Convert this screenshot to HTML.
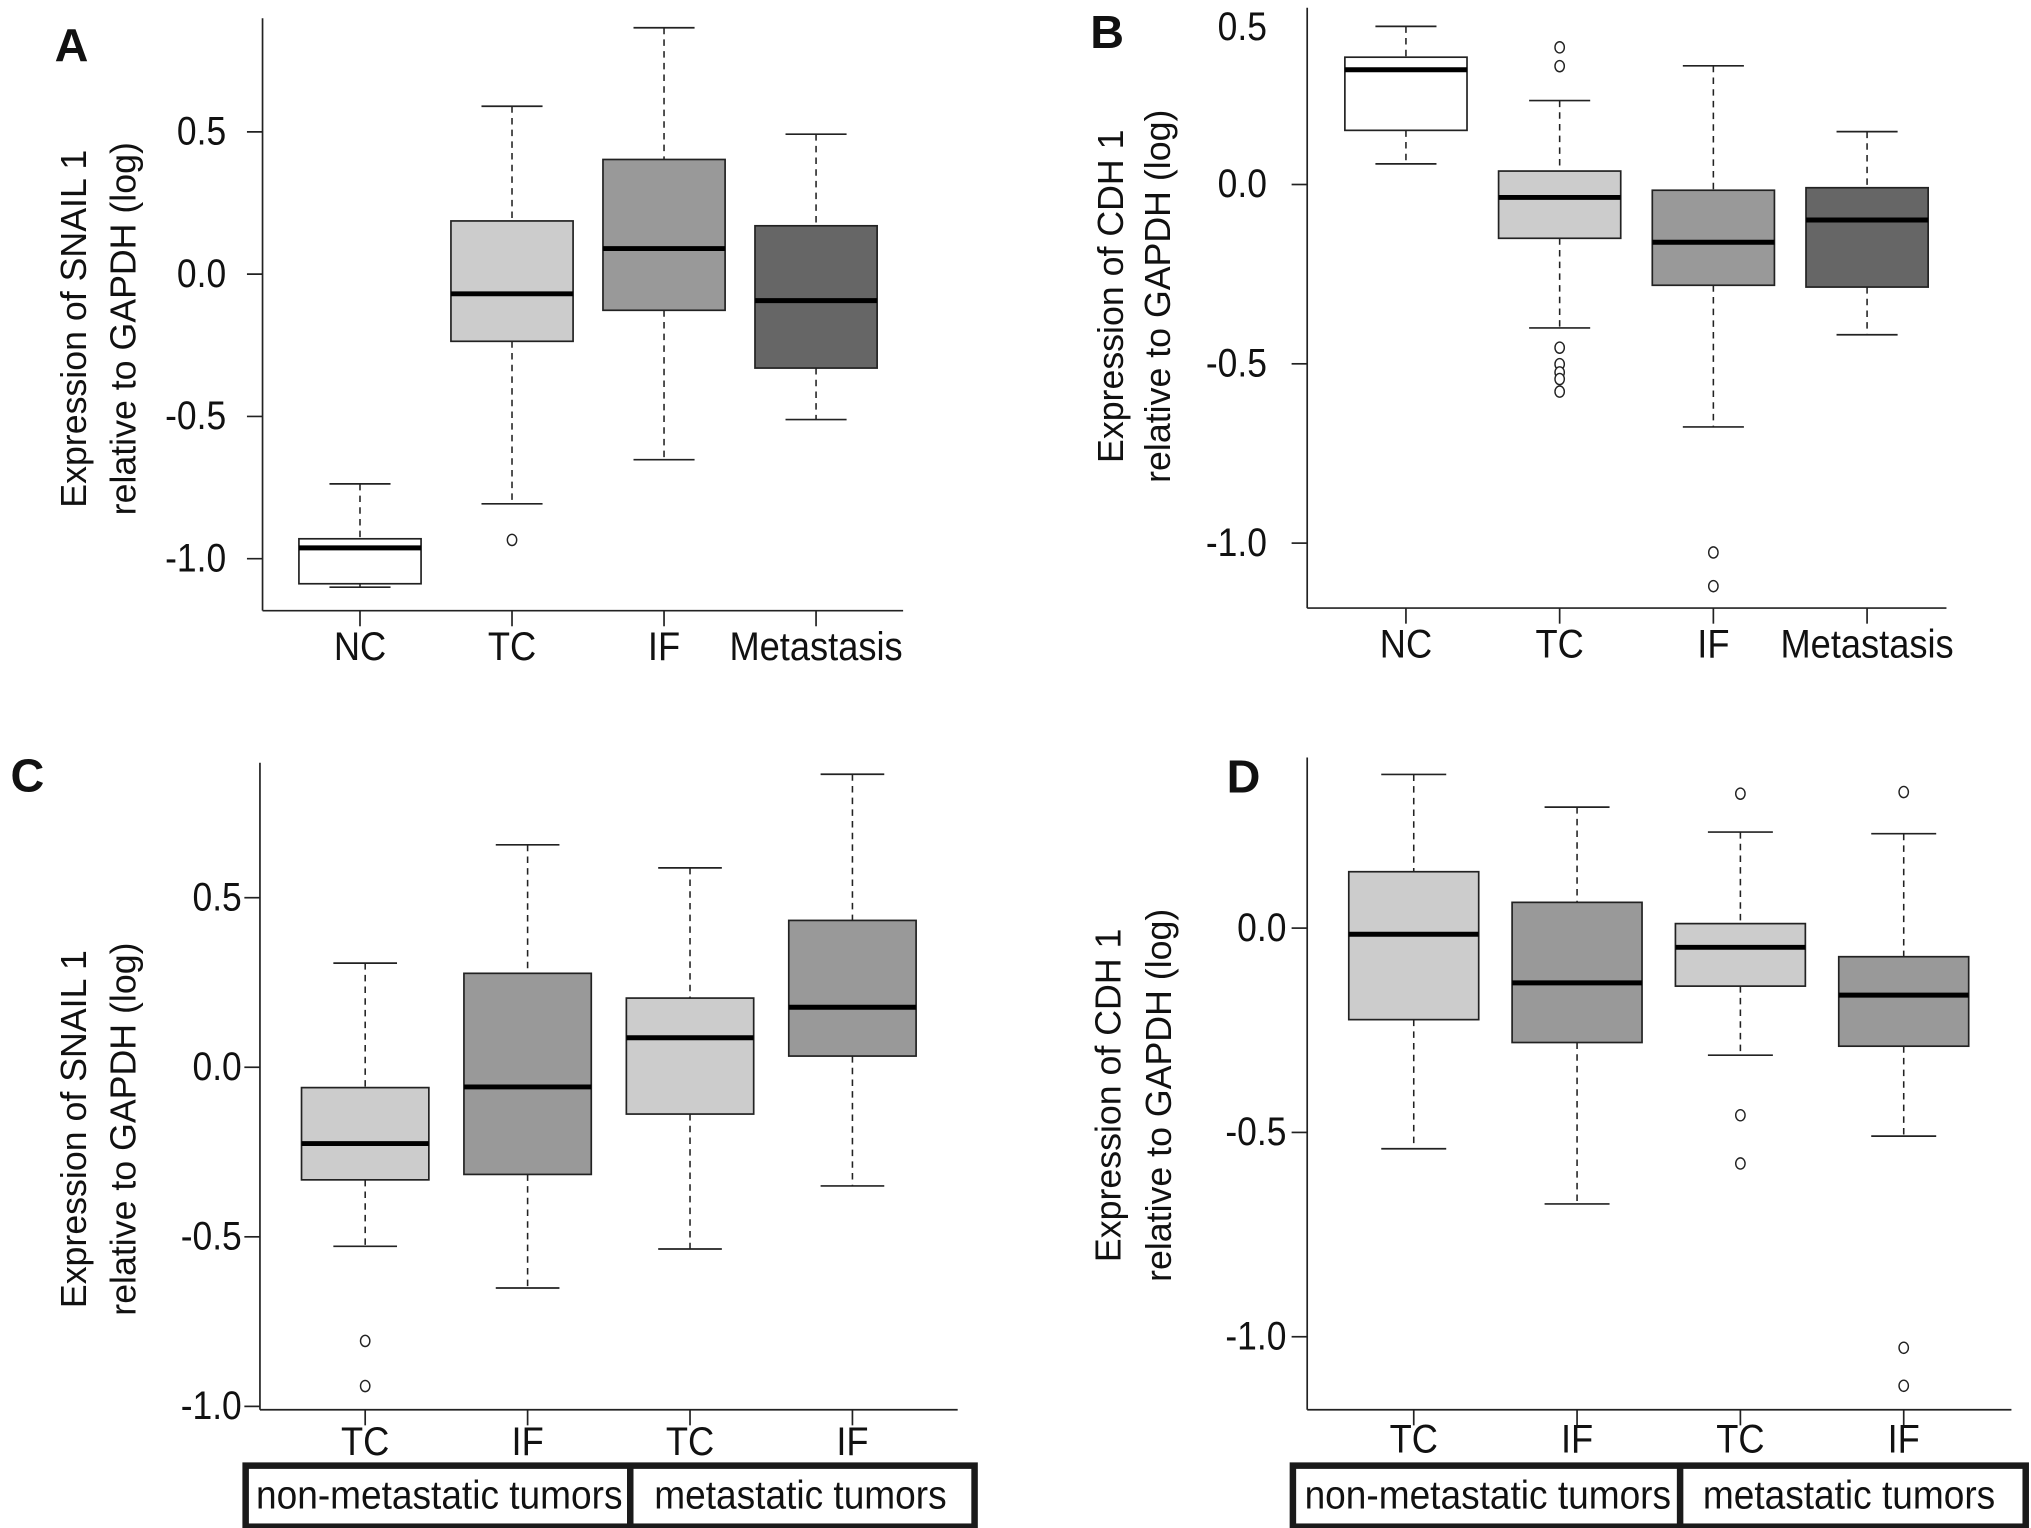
<!DOCTYPE html>
<html><head><meta charset="utf-8"><style>
html,body{margin:0;padding:0;background:#fff;}
svg{display:block;}
text{font-family:"Liberation Sans",Arial,sans-serif;fill:#111;}
</style></head>
<body>
<svg id="fig" width="2031" height="1528" viewBox="0 0 1563 1176" xmlns="http://www.w3.org/2000/svg">
<text x="42" y="47" font-size="36" font-weight="bold">A</text>
<text x="839" y="37" font-size="36" font-weight="bold">B</text>
<text x="8" y="609" font-size="36" font-weight="bold">C</text>
<text x="944" y="610" font-size="36" font-weight="bold">D</text>
<g transform="translate(57,253) rotate(-90)"><text text-anchor="middle" dominant-baseline="central" font-size="27.5">Expression of SNAIL 1</text><text y="38" text-anchor="middle" dominant-baseline="central" font-size="27.5">relative to GAPDH (log)</text></g>
<g transform="translate(855,228) rotate(-90)"><text text-anchor="middle" dominant-baseline="central" font-size="27.5">Expression of CDH 1</text><text y="36" text-anchor="middle" dominant-baseline="central" font-size="27.5">relative to GAPDH (log)</text></g>
<g transform="translate(57,869) rotate(-90)"><text text-anchor="middle" dominant-baseline="central" font-size="27.5">Expression of SNAIL 1</text><text y="38" text-anchor="middle" dominant-baseline="central" font-size="27.5">relative to GAPDH (log)</text></g>
<g transform="translate(853,843) rotate(-90)"><text text-anchor="middle" dominant-baseline="central" font-size="27.5">Expression of CDH 1</text><text y="39" text-anchor="middle" dominant-baseline="central" font-size="27.5">relative to GAPDH (log)</text></g>
<g>
<rect x="189" y="1128" width="561" height="47" fill="#fff" stroke="#1a1a1a" stroke-width="5"/>
<line x1="485" y1="1128" x2="485" y2="1175" stroke="#1a1a1a" stroke-width="5"/>
<text transform="translate(338,1161) scale(0.92,1)" text-anchor="middle" font-size="31">non-metastatic tumors</text>
<text transform="translate(616,1161) scale(0.92,1)" text-anchor="middle" font-size="31">metastatic tumors</text>
</g>
<g>
<rect x="995" y="1128" width="564" height="47" fill="#fff" stroke="#1a1a1a" stroke-width="5"/>
<line x1="1293" y1="1128" x2="1293" y2="1175" stroke="#1a1a1a" stroke-width="5"/>
<text transform="translate(1145,1161) scale(0.92,1)" text-anchor="middle" font-size="31">non-metastatic tumors</text>
<text transform="translate(1423,1161) scale(0.92,1)" text-anchor="middle" font-size="31">metastatic tumors</text>
</g>
</svg>
<script>
// Panel A
var aCats = ["NC","TC","IF","Metastasis"];
var aLo  = [-1.10,-0.807,-0.652,-0.511];
var aQ1  = [-1.088,-0.236,-0.127,-0.33];
var aMed = [-0.962,-0.069,0.09,-0.093];
var aQ3  = [-0.93,0.187,0.403,0.17];
var aHi  = [-0.737,0.59,0.866,0.492];
var aOut = [[],[-0.934],[],[]];
var aTicks = [-1.0,-0.5,0.0,0.5];
var aTickLabels = ["-1.0","-0.5","0.0","0.5"];
// Panel B
var bCats = ["NC","TC","IF","Metastasis"];
var bLo  = [0.0575,-0.40,-0.676,-0.419];
var bQ1  = [0.151,-0.15,-0.281,-0.286];
var bMed = [0.32,-0.036,-0.161,-0.099];
var bQ3  = [0.355,0.0375,-0.016,-0.009];
var bHi  = [0.441,0.234,0.331,0.1475];
var bOut = [[],[0.3825,0.33,-0.455,-0.501,-0.524,-0.5425,-0.5775],[-1.026,-1.12],[]];
var bTicks = [-1.0,-0.5,0.0];
var bTickLabels = ["-1.0","-0.5","0.0"];
// Panel C
var cCats = ["TC","IF","TC","IF"];
var cLo  = [-0.528,-0.651,-0.536,-0.35];
var cQ1  = [-0.332,-0.316,-0.138,0.033];
var cMed = [-0.225,-0.058,0.087,0.177];
var cQ3  = [-0.06,0.277,0.204,0.433];
var cHi  = [0.307,0.656,0.588,0.864];
var cOut = [[-0.807,-0.94],[],[],[]];
var cTicks = [-1.0,-0.5,0.0,0.5];
var cTickLabels = ["-1.0","-0.5","0.0","0.5"];
// Panel D
var dCats = ["TC","IF","TC","IF"];
var dLo  = [-0.54,-0.675,-0.311,-0.509];
var dQ1  = [-0.224,-0.28,-0.142,-0.289];
var dMed = [-0.015,-0.134,-0.047,-0.164];
var dQ3  = [0.138,0.063,0.011,-0.07];
var dHi  = [0.376,0.296,0.235,0.231];
var dOut = [[],[],[0.329,-0.458,-0.576],[0.333,-1.027,-1.12]];
var dTicks = [-1.0,-0.5,0.0];
var dTickLabels = ["-1.0","-0.5","0.0"];

var NS = "http://www.w3.org/2000/svg";
var svg = document.getElementById("fig");
function mk(tag, attrs, parent){
  var e = document.createElementNS(NS, tag);
  for (var k in attrs) e.setAttribute(k, attrs[k]);
  (parent||svg).appendChild(e);
  return e;
}
function panel(id, L, cats, lo, q1, med, q3, hi, outs, ticks, tickLabels, fills){
  var g = mk("g", {});
  
  
  function y(v){ return L.y0 - v * L.k; }
  function x(i){ return L.x0 + i * L.dx; }
  var ax = mk("line", {x1:L.ax, y1:L.top, x2:L.ax, y2:L.bot, stroke:"#222", "stroke-width":1.3}, g);
  
  
  var bx = mk("line", {x1:L.ax, y1:L.bot, x2:L.xEnd, y2:L.bot, stroke:"#222", "stroke-width":1.3}, g);
  
  
  for (var t = 0; t < ticks.length; t++){
    var ty = y(ticks[t]);
    var tk = mk("line", {x1:L.ax-12, y1:ty, x2:L.ax, y2:ty, stroke:"#222", "stroke-width":1.3}, g);
    
    
    var tl = mk("text", {transform:"translate(" + (L.ax-L.gap) + "," + ty + ") scale(0.88,1)", "text-anchor":"end", "dominant-baseline":"central", "font-size":31}, g);
    tl.textContent = tickLabels[t];
    
    
  }
  var hw = L.bw/2, cw = L.bw/4;
  for (var i = 0; i < cats.length; i++){
    var cx = x(i);
    var bg = mk("g", {}, g);
    
    
    mk("line", {x1:cx, y1:y(hi[i]), x2:cx, y2:y(q3[i]), stroke:"#222", "stroke-width":1.2, "stroke-dasharray":"5,4"}, bg);
    mk("line", {x1:cx, y1:y(q1[i]), x2:cx, y2:y(lo[i]), stroke:"#222", "stroke-width":1.2, "stroke-dasharray":"5,4"}, bg);
    mk("line", {x1:cx-cw, y1:y(hi[i]), x2:cx+cw, y2:y(hi[i]), stroke:"#222", "stroke-width":1.3}, bg);
    mk("line", {x1:cx-cw, y1:y(lo[i]), x2:cx+cw, y2:y(lo[i]), stroke:"#222", "stroke-width":1.3}, bg);
    mk("rect", {x:cx-hw, y:y(q3[i]), width:L.bw, height:y(q1[i])-y(q3[i]), fill:fills[i], stroke:"#222", "stroke-width":1.3}, bg);
    mk("line", {x1:cx-hw, y1:y(med[i]), x2:cx+hw, y2:y(med[i]), stroke:"#000", "stroke-width":3.8}, bg);
    for (var o = 0; o < outs[i].length; o++){
      var c = mk("ellipse", {cx:cx, cy:y(outs[i][o]), rx:3.6, ry:4.3, fill:"#fff", stroke:"#222", "stroke-width":1.1}, bg);
      
      
    }
    mk("line", {x1:cx, y1:L.bot, x2:cx, y2:L.bot+12, stroke:"#222", "stroke-width":1.3}, g);
    var cl = mk("text", {transform:"translate(" + cx + "," + L.lab + ") scale(0.9,1)", "text-anchor":"middle", "font-size":31}, g);
    cl.textContent = cats[i];
    
    
  }
  return y;
}
panel("a", {ax:202, top:14, bot:470, xEnd:695, y0:211, k:219, x0:277, dx:117, bw:94, gap:28, lab:508},
  aCats, aLo, aQ1, aMed, aQ3, aHi, aOut, aTicks, aTickLabels, ["#fff","#cccccc","#999999","#666666"]);
panel("b", {ax:1006, top:6, bot:468, xEnd:1498, y0:142, k:276, x0:1082, dx:118.3, bw:94, gap:31, lab:506},
  bCats, bLo, bQ1, bMed, bQ3, bHi, bOut, bTicks, bTickLabels, ["#fff","#cccccc","#999999","#666666"]);
var extra = mk("text", {transform:"translate(975,21) scale(0.88,1)", "text-anchor":"end", "dominant-baseline":"central", "font-size":31});
extra.textContent = "0.5";


panel("c", {ax:200, top:587, bot:1085, xEnd:737, y0:821.4, k:261, x0:281, dx:125, bw:98, gap:14, lab:1120},
  cCats, cLo, cQ1, cMed, cQ3, cHi, cOut, cTicks, cTickLabels, ["#cccccc","#999999","#cccccc","#999999"]);
panel("d", {ax:1006, top:583, bot:1085, xEnd:1548, y0:714.3, k:314.5, x0:1088, dx:125.7, bw:100, gap:16, lab:1118},
  dCats, dLo, dQ1, dMed, dQ3, dHi, dOut, dTicks, dTickLabels, ["#cccccc","#999999","#cccccc","#999999"]);
</script>
</body></html>
